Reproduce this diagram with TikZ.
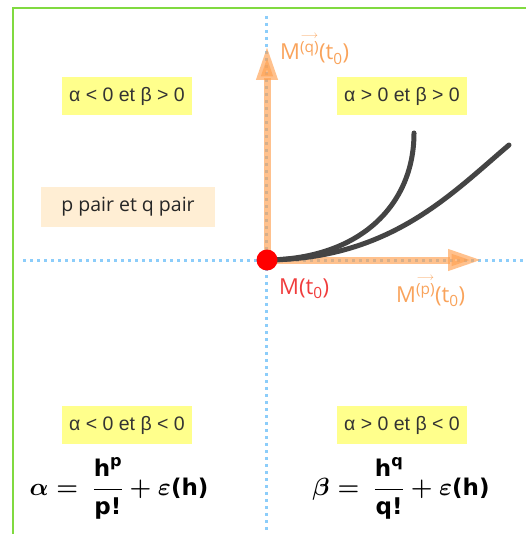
\documentclass[tikz,border=0pt]{standalone}
\usepackage{amsmath}
\usepackage{fontspec}
\setmainfont{Liberation Sans}
\newfontfamily\labfont{Open Sans}
\newfontfamily\fb{DejaVu Sans}
\usetikzlibrary{arrows.meta}
\definecolor{frameg}{RGB}{128,218,64}
\definecolor{dotblue}{RGB}{140,205,250}
\definecolor{arrorange}{RGB}{255,160,80}
\definecolor{laborange}{RGB}{249,163,91}
\definecolor{labred}{RGB}{240,60,60}
\definecolor{boxyellow}{RGB}{255,255,140}
\definecolor{boxpeach}{RGB}{255,238,212}
\definecolor{curvegray}{RGB}{68,68,68}
\newcommand{\bh}[1]{\text{\fb\bfseries #1}}
\tikzset{
  dotline/.style={dotblue, line width=3pt, dash pattern=on 3pt off 4pt},
  vecarrow/.style={arrorange, opacity=0.65, line width=7pt,
    -{Triangle[length=34pt,width=20pt]}},
  condbox/.style={fill=boxyellow, inner sep=0pt, minimum width=130pt, minimum height=38pt,
    font=\fontsize{19.5}{22}\selectfont, text=black!80},
  parbox/.style={fill=boxpeach, inner sep=0pt, minimum width=174pt, minimum height=40pt,
    font=\labfont\fontsize{19.5}{22}\selectfont, text=black!85},
  curve/.style={curvegray, line width=5pt, line cap=round},
  mlab/.style={font=\labfont\fontsize{22}{26}\selectfont, inner sep=0pt},
  formula/.style={font=\fontsize{23}{28}\selectfont\boldmath, inner sep=0pt}
}
\begin{document}
\begin{tikzpicture}[x=1pt, y=-1pt]
\useasboundingbox (0,0) rectangle (526,534);
% frame
\draw[frameg, line width=2pt] (13,534) -- (13,8) -- (526,8);
% dotted axes
\coordinate (vtop) at (266,16);
\coordinate (vbot) at (266,534);
\coordinate (hleft) at (23,260);
\coordinate (hright) at (526,260);
\draw[dotline] (vtop) -- (vbot);
\draw[dotline] (hleft) -- (hright);
% origin
\coordinate (O) at (267,260);
\coordinate (P) at (482,260);
\coordinate (Q) at (267,46);
\coordinate (C1) at (414,133);
\coordinate (C2) at (509,145);
% vectors
\draw[vecarrow] (O) -- (P);
\draw[vecarrow] (O) -- (Q);
% curves
\draw[curve] (O) .. controls (360,259) and (414,205) .. (C1);
\draw[curve] (O) .. controls (390,259) and (450,195) .. (C2);
% point
\node[circle, fill=red, inner sep=0pt, minimum size=21pt] (pt) at (O) {};
% labels
\node[mlab, text=laborange, anchor=base west] (lq) at (280,60)
  {M$^{\overset{\scriptscriptstyle\longrightarrow}{\text{\labfont(q)}}}$(t$_{\text{\labfont 0}}$)};
\node[mlab, text=labred, anchor=base west] (lm) at (279,294)
  {M(t$_{\text{\labfont 0}}$)};
\node[mlab, text=laborange, anchor=base west] (lp) at (396,302)
  {M$^{\overset{\scriptscriptstyle\longrightarrow}{\text{\labfont(p)}}}$(t$_{\text{\labfont 0}}$)};
% condition boxes
\node[condbox] (b1) at (127,96) {α < 0 et β > 0};
\node[condbox] (b2) at (402,96) {α > 0 et β > 0};
\node[condbox] (b3) at (127,425) {α < 0 et β < 0};
\node[condbox] (b4) at (402,425) {α > 0 et β < 0};
\node[parbox] (pq) at (128,207) {p pair et q pair};
% formulas
\node[formula] (fa) at (119,488)
  {$\alpha = \ \dfrac{\bh{h}^{\bh{p}}}{\bh{p!}} + \varepsilon\bh{(h)}$};
\node[formula] (fb) at (401,488)
  {$\beta = \ \dfrac{\bh{h}^{\bh{q}}}{\bh{q!}} + \varepsilon\bh{(h)}$};
\end{tikzpicture}
\end{document}
